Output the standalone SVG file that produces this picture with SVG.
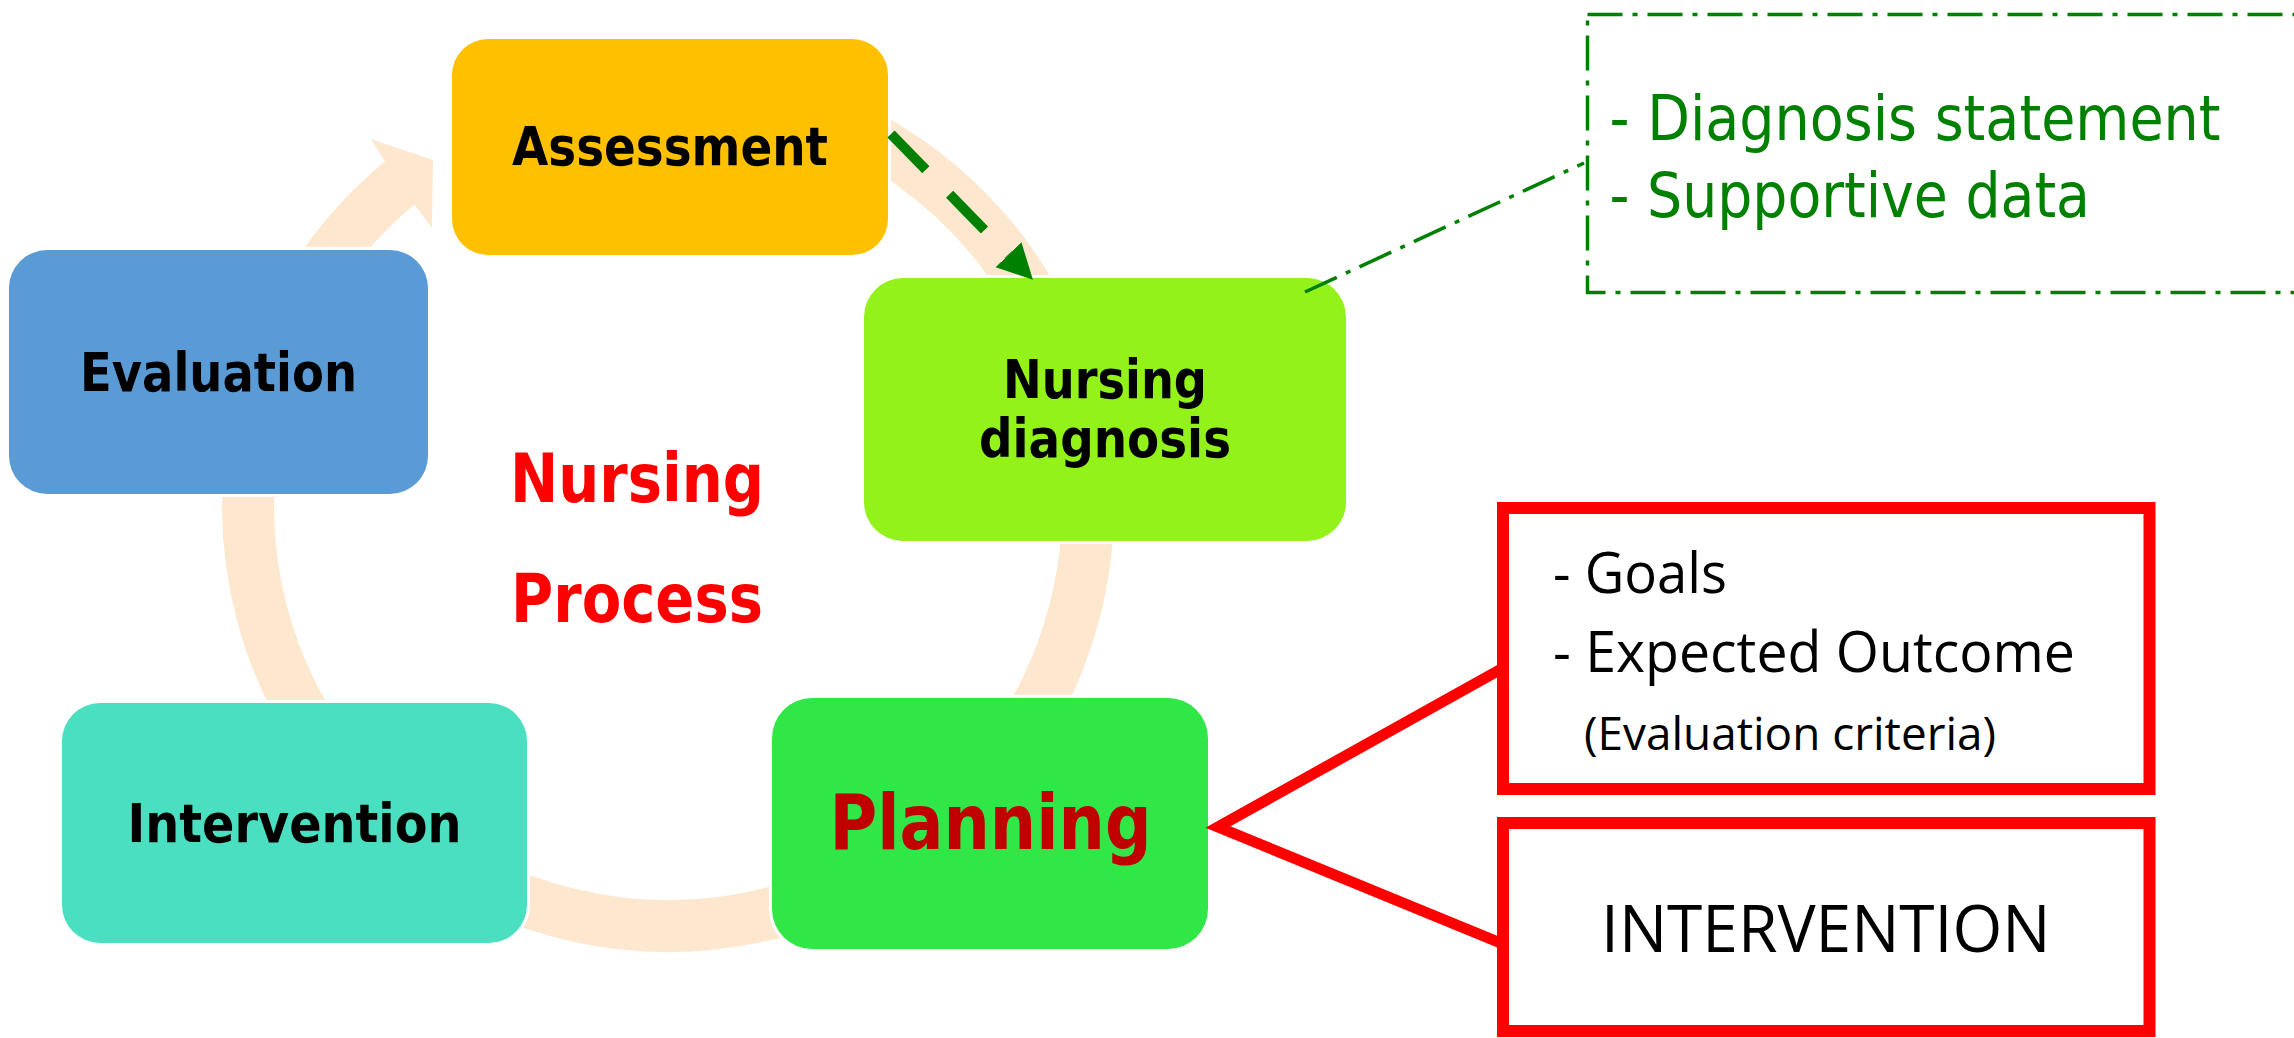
<svg xmlns="http://www.w3.org/2000/svg" width="2294" height="1038" viewBox="0 0 2294 1038">
  <style>
    .lbl { font-family: "DejaVu Sans", Verdana, sans-serif; font-weight: bold; }
    .note { font-family: "Open Sans", "Noto Sans", sans-serif; fill: #000000; }
    .gtxt { font-family: "DejaVu Sans", Verdana, sans-serif; fill: #008000; }
    .ring { fill: none; stroke: #FDE8CF; stroke-width: 52; }
    .box { stroke: #FFFFFF; stroke-width: 6; paint-order: stroke; }
    .redline { fill: none; stroke: #FF0000; stroke-width: 11; stroke-linejoin: miter; }
    .redbox { fill: #FFFFFF; stroke: #FF0000; stroke-width: 12; }
    .dashdot { fill: none; stroke: #008000; stroke-width: 3.5; stroke-dasharray: 35 10 5 10; }
  </style>
  <defs>
    <marker id="greenHead" markerUnits="userSpaceOnUse" markerWidth="40" markerHeight="40" refX="0" refY="18" orient="auto" viewBox="0 0 40 36">
      <path d="M0,0 L35,18 L0,36 Z" fill="#008000"/>
    </marker>
  </defs>

  <rect width="2294" height="1038" fill="#FFFFFF"/>

  <!-- cycle ring segments (center 668,506) -->
  <g id="cycle-arrows">
    <path class="ring" d="M668 86 A420 420 0 0 1 1062.7 362.4"/>
    <path class="ring" d="M1086.4 469.4 A420 420 0 0 1 989.7 776"/>
    <path class="ring" d="M811.6 900.7 A420 420 0 0 1 398 827.7"/>
    <path class="ring" d="M324 746.9 A420 420 0 0 1 249.6 469.4"/>
    <path fill="#FDE8CF" d="M248.9 353.5 A446 446 0 0 1 384.9 161.4 L371 139 L433 160 L432 228 L414.3 204.6 A394 394 0 0 0 297.8 371.2 Z"/>
  </g>

  <g id="assessment">
    <rect class="box" x="452" y="39" width="436" height="216" rx="36" ry="36" fill="#FFC000"/>
    <text class="lbl" x="512" y="165" font-size="54" textLength="316" lengthAdjust="spacingAndGlyphs">Assessment</text>
  </g>

  <g id="nursing-diagnosis">
    <rect class="box" x="864" y="278" width="482" height="263" rx="39" ry="39" fill="#94F21B"/>
    <text class="lbl" x="1003" y="398" font-size="54" textLength="204" lengthAdjust="spacingAndGlyphs">Nursing</text>
    <text class="lbl" x="979" y="457" font-size="54" textLength="252" lengthAdjust="spacingAndGlyphs">diagnosis</text>
  </g>

  <g id="planning">
    <rect class="box" x="772" y="698" width="436" height="251" rx="40" ry="40" fill="#31E748"/>
    <text class="lbl" x="829.5" y="849" font-size="77" fill="#C00000" textLength="322" lengthAdjust="spacingAndGlyphs">Planning</text>
  </g>

  <g id="intervention">
    <rect class="box" x="62" y="703" width="465" height="240" rx="38" ry="38" fill="#4BDFC1"/>
    <text class="lbl" x="127.5" y="842" font-size="54" textLength="334" lengthAdjust="spacingAndGlyphs">Intervention</text>
  </g>

  <g id="evaluation">
    <rect class="box" x="9" y="250" width="419" height="244" rx="38" ry="38" fill="#5B9BD5"/>
    <text class="lbl" x="80" y="391" font-size="54" textLength="277" lengthAdjust="spacingAndGlyphs">Evaluation</text>
  </g>

  <g id="title">
    <text class="lbl" x="510" y="502" font-size="67" fill="#FF0000" textLength="254" lengthAdjust="spacingAndGlyphs">Nursing</text>
    <text class="lbl" x="511" y="622" font-size="67" fill="#FF0000" textLength="252" lengthAdjust="spacingAndGlyphs">Process</text>
  </g>

  <g id="connectors">
    <line x1="891" y1="134" x2="1008.5" y2="254.7" stroke="#008000" stroke-width="10" stroke-dasharray="50 34" marker-end="url(#greenHead)"/>
    <line class="dashdot" x1="1305" y1="292" x2="1584" y2="163"/>
    <polyline class="redline" points="1503,668 1218,827 1503,944"/>
  </g>

  <g id="diagnosis-note">
    <rect class="dashdot" x="1587.5" y="14.5" width="800" height="278"/>
    <text class="gtxt" x="1609.5" y="140" font-size="62" textLength="611" lengthAdjust="spacingAndGlyphs">- Diagnosis statement</text>
    <text class="gtxt" x="1609.5" y="217" font-size="62" textLength="480.5" lengthAdjust="spacingAndGlyphs">- Supportive data</text>
  </g>

  <g id="goals-note">
    <rect class="redbox" x="1503" y="508" width="646.5" height="281"/>
    <text class="note" x="1553" y="593" font-size="57" textLength="174" lengthAdjust="spacingAndGlyphs">- Goals</text>
    <text class="note" x="1553" y="672" font-size="57" textLength="522" lengthAdjust="spacingAndGlyphs">- Expected Outcome</text>
    <text class="note" x="1584" y="750" font-size="45" textLength="412" lengthAdjust="spacingAndGlyphs">(Evaluation criteria)</text>
  </g>

  <g id="intervention-note">
    <rect class="redbox" x="1503" y="823" width="646.5" height="208"/>
    <text class="note" x="1601" y="952" font-size="65" textLength="449.5" lengthAdjust="spacingAndGlyphs">INTERVENTION</text>
  </g>
</svg>
